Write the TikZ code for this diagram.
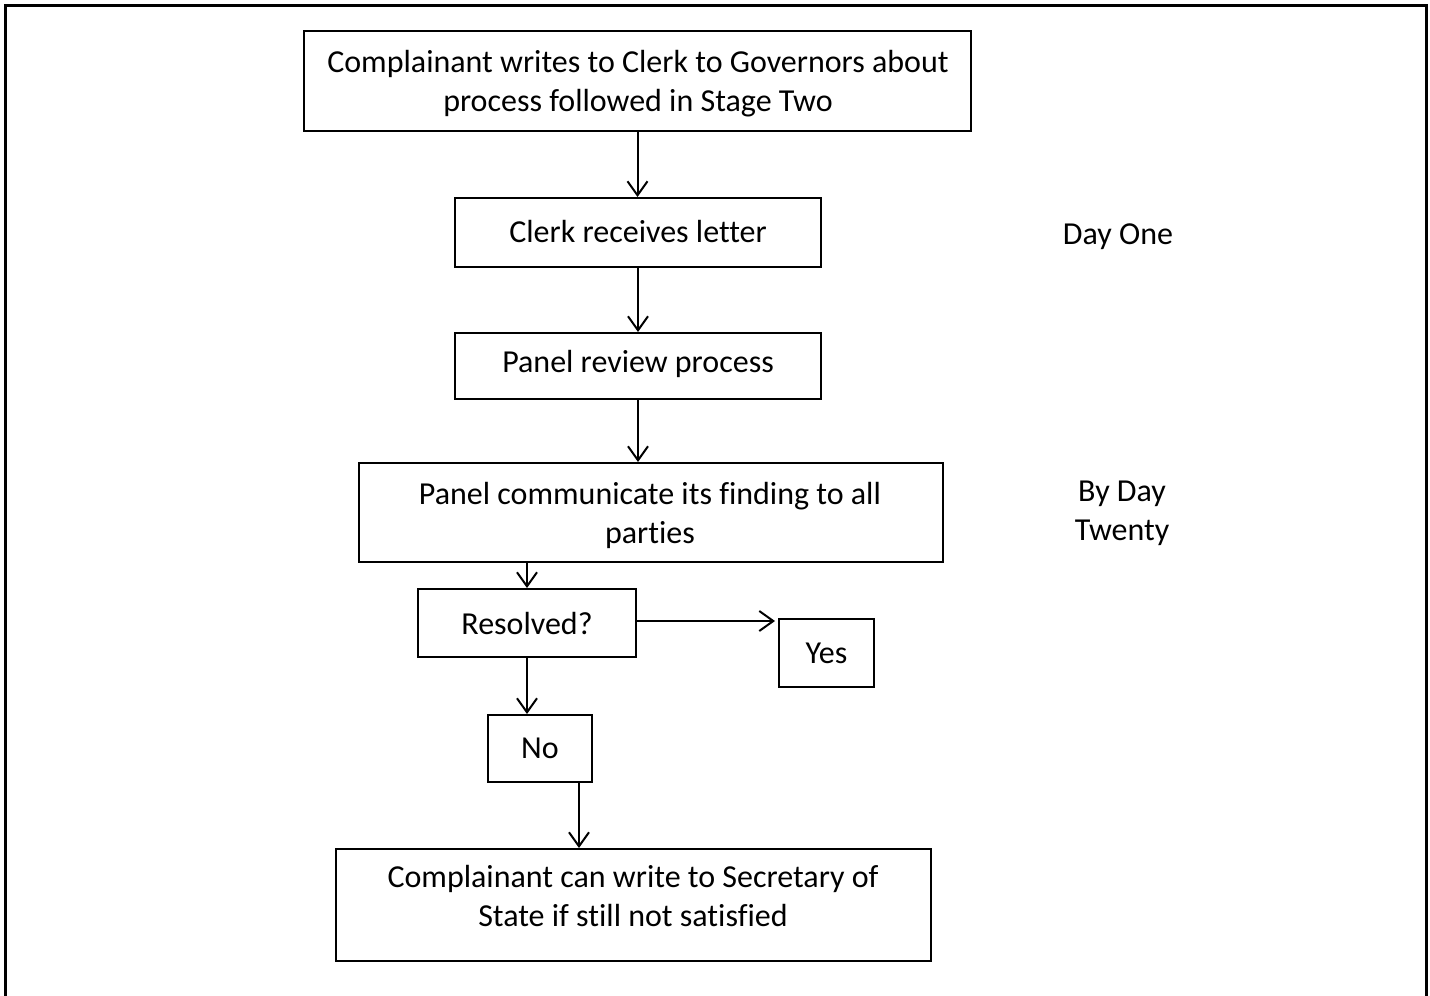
\documentclass[tikz,border=0pt]{standalone}
\usepackage{fontspec}
\setmainfont[Ligatures=NoCommon]{Carlito}
\usetikzlibrary{arrows.meta,calc}
\begin{document}
\begin{tikzpicture}[x=0.5pt,y=-0.5pt,
  box/.style={draw,line width=1pt,inner sep=0pt},
  txt/.style={font=\fontsize{16}{19.5}\selectfont,align=center,inner sep=0pt},
  arr/.style={line width=1pt,-{Straight Barb[length=7pt,width=10pt,line width=1pt]}}]
\useasboundingbox (0,0) rectangle (1430,996);
\begin{scope}
\clip (0,0) rectangle (1430,996);
\draw[line width=1.5pt] (5,5) rectangle (1426,1010);
\end{scope}
% boxes
\node[box,minimum width=333.5pt,minimum height=50pt] (top) at (637.5,81) {};
\node[box,minimum width=183pt,minimum height=34.5pt] (clerk) at (638,232.5) {};
\node[box,minimum width=183pt,minimum height=33pt] (review) at (638,366) {};
\node[box,minimum width=292pt,minimum height=49.5pt] (comm) at (651,512.5) {};
\node[box,minimum width=109pt,minimum height=34pt] (res) at (527,623) {};
\node[box,minimum width=47.5pt,minimum height=34pt] (yes) at (826.5,653) {};
\node[box,minimum width=52pt,minimum height=33.5pt] (no) at (540,748.5) {};
\node[box,minimum width=297.5pt,minimum height=56pt] (fin) at (633.5,905) {};
% texts
\node[txt] (ttop) at (638,84) {Complainant writes to Clerk to Governors about\\process followed in Stage Two};
\node[txt] (tclerk) at (638,232) {Clerk receives letter};
\node[txt] (treview) at (638,364) {Panel review process};
\node[txt] (tcomm) at (650,515) {Panel communicate its finding to all\\parties};
\node[txt] (tres) at (527,623) {Resolved?};
\node[txt] (tyes) at (826.5,653) {Yes};
\node[txt] (tno) at (540,748) {No};
\node[txt] (tfin) at (633,896) {Complainant can write to Secretary of\\State if still not satisfied};
\node[txt] (day1) at (1118,237) {Day One};
\node[txt] (day20) at (1122,513) {By Day\\Twenty};
% arrows
\draw[arr] (top.south) -- (top.south |- clerk.north);
\draw[arr] (clerk.south) -- (clerk.south |- review.north);
\draw[arr] (review.south) -- (review.south |- comm.north);
\draw[arr] (res.north |- comm.south) -- (res.north);
\draw[arr] ($(res.east)+(0,-2)$) -- ($(yes.west |- res.east)+(-3,-2)$);
\draw[arr] (res.south) -- (res.south |- no.north);
\draw[arr] ($(no.south)+(39,0)$) coordinate (nob) -- (nob |- fin.north);
\end{tikzpicture}
\end{document}
